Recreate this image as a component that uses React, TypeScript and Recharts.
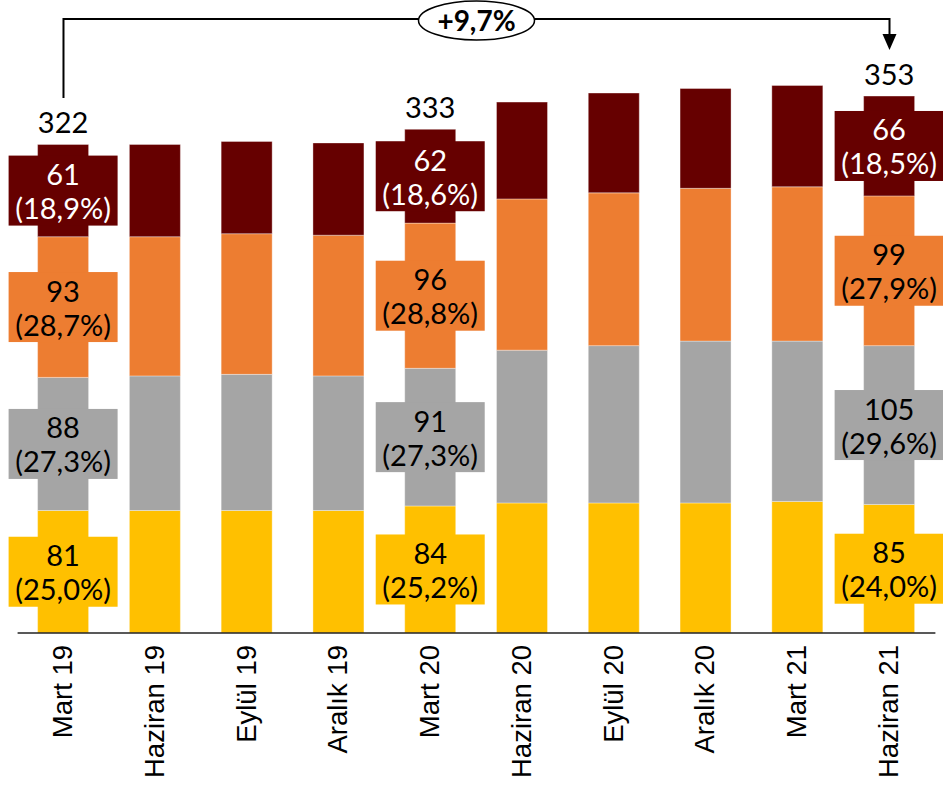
import { Bar, BarChart, LabelList, XAxis, YAxis } from 'recharts'

// Quarterly stacked bars, four segments, with value/share callouts on
// Mart 19, Mart 20 and Haziran 21 plus a growth arrow across the top.

const categories = [
  'Mart 19',
  'Haziran 19',
  'Eylül 19',
  'Aralık 19',
  'Mart 20',
  'Haziran 20',
  'Eylül 20',
  'Aralık 20',
  'Mart 21',
  'Haziran 21',
]

const yellowValues = [81, 81, 81, 81, 84, 86, 86, 86, 87, 85]
const grayValues = [88, 89, 90, 89, 91, 101, 104, 107, 106, 105]
const orangeValues = [93, 92, 93, 93, 96, 100, 101, 101, 102, 99]
const darkValues = [61, 61, 61, 61, 62, 64, 66, 66, 67, 66]

// shares (%) shown only on the labelled bars
const yellowShares = [25.0, null, null, null, 25.2, null, null, null, null, 24.0]
const grayShares = [27.3, null, null, null, 27.3, null, null, null, null, 29.6]
const orangeShares = [28.7, null, null, null, 28.8, null, null, null, null, 27.9]
const darkShares = [18.9, null, null, null, 18.6, null, null, null, null, 18.5]

const totals = [322, null, null, null, 333, null, null, null, null, 353]
const growthText = '+9,7%'

const COLORS = {
  yellow: '#FFC000',
  gray: '#A5A5A5',
  orange: '#ED7D31',
  dark: '#660000',
}

const W = 943
const H = 785
const MARGIN = { top: 28, right: 7.6, bottom: 0, left: 17.6 }
const AXIS_H = 152
const Y_MAX = 400
const LABEL_FONT = 'Lato, "Open Sans", sans-serif'
const LABEL_SIZE = 29

const fmtPct = (v: number) => `(${v.toFixed(1).replace('.', ',')}%)`

const callout = (vals: number[], shares: Array<number | null>, i: number) =>
  shares[i] == null ? null : `${vals[i]}|${fmtPct(shares[i] as number)}`

const rows = categories.map((name, i) => ({
  name,
  yellow: yellowValues[i],
  gray: grayValues[i],
  orange: orangeValues[i],
  dark: darkValues[i],
  yellowLabel: callout(yellowValues, yellowShares, i),
  grayLabel: callout(grayValues, grayShares, i),
  orangeLabel: callout(orangeValues, orangeShares, i),
  darkLabel: callout(darkValues, darkShares, i),
  total: totals[i],
}))

function boxOf(props: any) {
  const vb = props.viewBox && props.viewBox.width != null ? props.viewBox : props
  return { x: +vb.x, y: +vb.y, width: +vb.width, height: +vb.height }
}

function makeCallout(fill: string, textColor: string) {
  return function Callout(props: any) {
    if (props.value == null) return null
    const [num, pct] = String(props.value).split('|')
    const { x, y, width, height } = boxOf(props)
    const cx = x + width / 2
    const cy = y + height / 2
    return (
      <g>
        <rect x={cx - 54.5} y={cy - 35} width={109} height={70} fill={fill} />
        <text
          x={cx}
          y={cy - 17}
          textAnchor="middle"
          dominantBaseline="central"
          fill={textColor}
          fontFamily={LABEL_FONT}
          fontSize={LABEL_SIZE}
        >
          {num}
        </text>
        <text
          x={cx}
          y={cy + 17}
          textAnchor="middle"
          dominantBaseline="central"
          fill={textColor}
          fontFamily={LABEL_FONT}
          fontSize={LABEL_SIZE}
        >
          {pct}
        </text>
      </g>
    )
  }
}

function TotalLabel(props: any) {
  if (props.value == null) return null
  const { x, y, width } = boxOf(props)
  return (
    <text
      x={x + width / 2}
      y={y - 23}
      textAnchor="middle"
      dominantBaseline="central"
      fill="#000"
      fontFamily={LABEL_FONT}
      fontSize={LABEL_SIZE}
    >
      {props.value}
    </text>
  )
}

function RotatedTick({ x, y, payload }: any) {
  return (
    <text
      x={x - 1}
      y={y}
      transform={`rotate(-90 ${x - 1} ${y})`}
      textAnchor="end"
      dominantBaseline="central"
      fill="#000"
      fontFamily='"Liberation Sans", Arial, sans-serif'
      fontSize={27.5}
    >
      {payload.value}
    </text>
  )
}

// growth arrow drawn over the chart, positioned with the same layout numbers
function GrowthArrow() {
  const plotBottom = H - MARGIN.bottom - AXIS_H
  const plotH = plotBottom - MARGIN.top
  const band = (W - MARGIN.left - MARGIN.right) / categories.length
  const cx = (i: number) => MARGIN.left + band * (i + 0.5)
  const yPx = (v: number) => plotBottom - (v / Y_MAX) * plotH
  const first = 0
  const last = categories.length - 1
  const x0 = cx(first)
  const x1 = cx(last)
  const lineY = 19
  const startY = yPx(totals[first] as number) - 48
  const tipY = yPx(totals[last] as number) - 49
  const mid = (x0 + x1) / 2
  return (
    <svg
      width={W}
      height={H}
      style={{ position: 'absolute', left: 0, top: 0, pointerEvents: 'none' }}
    >
      <path
        d={`M${x0},${startY} V${lineY} H${x1} V${tipY - 14}`}
        fill="none"
        stroke="#000"
        strokeWidth={2}
      />
      <polygon points={`${x1 - 7},${tipY - 16} ${x1 + 7},${tipY - 16} ${x1},${tipY}`} fill="#000" />
      <ellipse cx={mid} cy={20.5} rx={58} ry={19.5} fill="#fff" stroke="#000" strokeWidth={1.5} />
      <text
        x={mid}
        y={20}
        textAnchor="middle"
        dominantBaseline="central"
        fontFamily={LABEL_FONT}
        fontWeight={700}
        fontSize={28}
        fill="#000"
      >
        {growthText}
      </text>
    </svg>
  )
}

export default function App() {
  return (
    <div style={{ position: 'absolute', left: 0, top: 0, width: W, height: H, background: '#fff' }}>
      <BarChart width={W} height={H} data={rows} margin={MARGIN} barSize={51}>
        <XAxis
          dataKey="name"
          height={AXIS_H}
          interval={0}
          tickLine={false}
          tickSize={0}
          tickMargin={12}
          axisLine={{ stroke: '#222', strokeWidth: 1.3 }}
          tick={<RotatedTick />}
        />
        <YAxis hide domain={[0, Y_MAX]} />
        <Bar dataKey="yellow" stackId="s" fill={COLORS.yellow} stroke="rgba(255,255,255,0.35)" isAnimationActive={false}>
          <LabelList dataKey="yellowLabel" content={makeCallout(COLORS.yellow, '#000')} />
        </Bar>
        <Bar dataKey="gray" stackId="s" fill={COLORS.gray} stroke="rgba(255,255,255,0.35)" isAnimationActive={false}>
          <LabelList dataKey="grayLabel" content={makeCallout(COLORS.gray, '#000')} />
        </Bar>
        <Bar dataKey="orange" stackId="s" fill={COLORS.orange} stroke="rgba(255,255,255,0.35)" isAnimationActive={false}>
          <LabelList dataKey="orangeLabel" content={makeCallout(COLORS.orange, '#000')} />
        </Bar>
        <Bar dataKey="dark" stackId="s" fill={COLORS.dark} stroke="rgba(255,255,255,0.35)" isAnimationActive={false}>
          <LabelList dataKey="darkLabel" content={makeCallout(COLORS.dark, '#fff')} />
          <LabelList dataKey="total" content={<TotalLabel />} />
        </Bar>
      </BarChart>
      <GrowthArrow />
    </div>
  )
}
